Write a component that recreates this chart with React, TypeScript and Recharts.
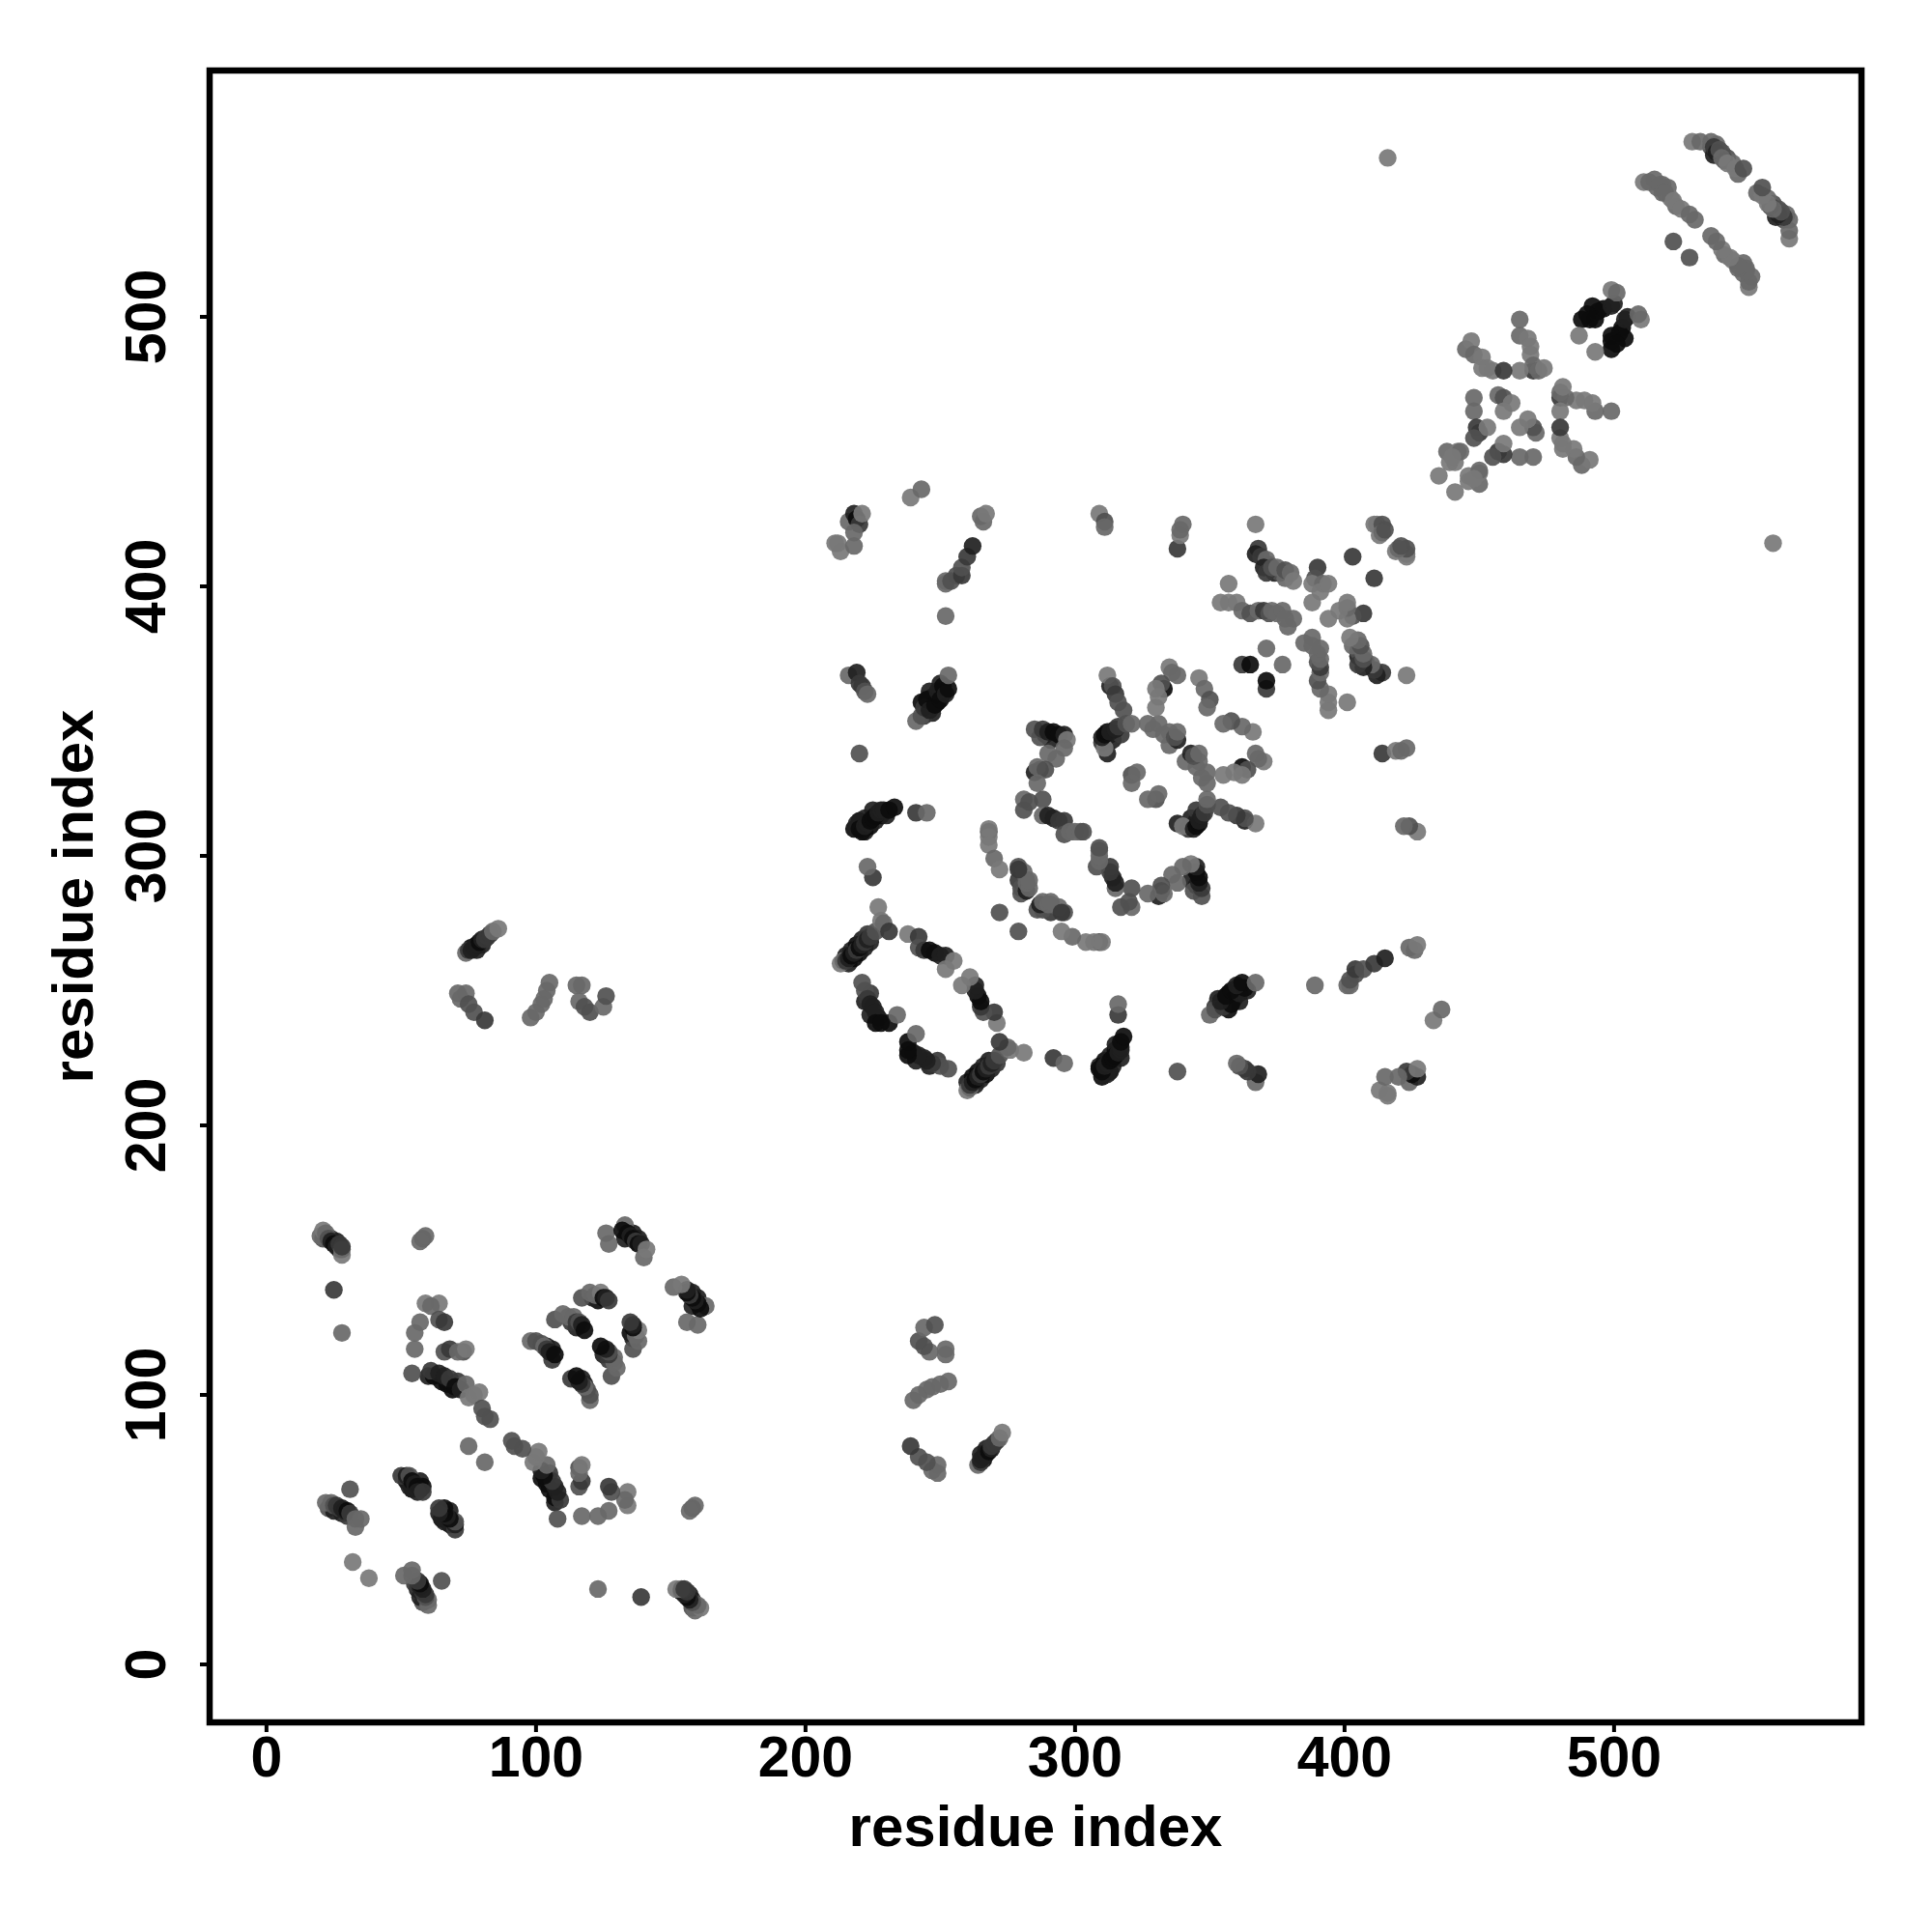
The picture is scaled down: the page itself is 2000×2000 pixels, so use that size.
import { ScatterChart, Scatter, XAxis, YAxis, Cell, ReferenceArea, Label } from 'recharts';

// contact pairs: [residue i, residue j, tone index], i < j
// the map is symmetric so each pair is plotted on both sides of the diagonal
// these sit under the others, they give the dark strands their width
const strandShoulderContacts = [
  [215,263,4],[217,265,4],[219,267,5],[221,269,4],[223,271,3],[216,260,4],[218,262,5],[220,264,5],[222,266,4],[224,268,4],
  [218,310,5],[220,313,5],[222,309,4],[224,311,5],[226,313,4],[228,315,5],[230,315,4],[222,314,4],[225,317,4],
  [243,357,5],[245,355,5],[247,359,5],[249,357,5],[251,360,5],[247,353,4],[250,364,4],[246,361,4],[244,352,3],
  [222,246,4],[224,249,3],[227,240,5],[224,241,4],
  [133,158,4],[136,160,4],[138,158,4],
  [21,158,2],[24,158,3],[26,157,4],[27,154,5],
  [57,68,4],[58,66,5],[54,65,5],[52,68,5],[53,66,4],
  [23,58,2],[25,57,4],[28,56,4],[30,55,3],
  [60,107,4],[62,107,5],[65,105,5],[67,104,5],[69,102,5],[71,105,3],
  [76,266,5],[78,265,4],[80,267,4],
  [104,118,4],[106,117,4],[106,113,3],[115,125,4],[113,127,3],[123,135,5],[121,136,4],
  [536,563,2],[538,564,1],[540,561,2],[537,560,4],[542,559,2],[544,557,1],[546,553,1],
  [516,548,1],[518,549,1],[520,548,1],[523,541,1],[521,544,0],
  [372,408,3],[374,405,4],[376,405,2],[378,403,1],
  [289,345,5],[291,343,4],[287,344,2],
  [313,345,5],[310,342,3],[314,343,4],[317,345,3],
];

const domainOneContacts = [
  [20,159,1],[21,161,0],[22,160,1],[23,158,2],[24,157,4],[25,156,5],[26,155,4],[27,156,3],[28,152,0],[28,154,1],[28,155,3],
  [25,139,3],[28,123,1],[58,158,2],[57,157,1],[59,159,1],
  [59,134,0],[64,134,0],[61,133,1],[57,127,1],[64,128,2],[66,127,3],[55,123,1],[55,117,1],[54,108,2],
  [66,116,2],[68,117,3],[73,116,2],[71,116,1],[74,117,0],
  [61,109,3],[64,108,4],[66,107,4],[68,106,3],[70,103,5],[72,102,4],[74,104,1],[75,99,0],[77,100,0],[79,101,0],[80,95,2],[81,92,2],[83,91,2],
  [75,81,1],
  [98,120,1],[100,120,2],[102,119,2],[103,118,1],[104,117,3],[105,116,4],[107,115,5],
  [107,128,2],[110,130,1],[112,129,1],[114,129,1],[115,127,3],[116,127,2],[117,126,4],[118,124,5],
  [117,136,2],[120,138,1],[122,137,1],[124,138,0],[125,136,5],[126,136,4],[127,135,3],
  [126,160,1],[127,156,1],[133,163,1],[132,161,5],[134,160,5],[135,159,4],[136,158,5],[137,157,3],[138,156,5],[139,156,4],[140,151,1],[141,154,0],
  [31,65,2],
  [22,60,1],[24,60,1],[25,59,2],[26,59,3],[27,58,3],[28,58,4],[29,57,4],[30,57,5],[31,56,3],[33,54,1],[33,51,1],[35,54,1],
  [32,38,0],
  [50,70,3],[52,70,4],[53,70,2],[54,68,5],[55,67,4],[56,66,5],[57,65,5],[56,64,4],[58,64,3],
];

const bridgeContacts = [
  [74,264,1],[75,265,3],[76,265,4],[77,266,4],[78,267,4],[79,268,5],[80,269,4],[81,269,3],[82,270,3],[83,271,3],[84,272,1],[86,273,0],
  [71,249,1],[74,249,1],[72,247,1],[75,245,2],[77,242,2],[81,239,3],
  [98,240,1],[100,242,1],[102,245,1],[103,247,1],[104,250,1],[105,253,1],
  [115,252,1],[117,252,1],[116,246,1],[118,244,2],[120,242,2],[125,244,1],[126,248,2],
];

const domainTwoContacts = [
  [213,260,0],[214,261,1],[215,261,3],[216,262,4],[217,263,5],[218,264,4],[219,265,3],[220,266,5],[221,267,4],[222,268,3],[223,269,4],[224,270,3],[226,272,2],[228,276,0],[227,281,0],[229,275,1],[231,272,3],
  [238,271,0],[242,270,3],[242,266,2],[244,265,3],[246,265,5],[248,264,5],[250,263,4],[252,263,4],[255,261,0],[252,258,0],
  [221,253,2],[222,250,2],[223,247,3],[224,245,4],[225,244,4],[226,242,4],[226,238,5],[228,238,5],[231,238,5],[234,241,1],
  [225,292,3],[223,296,1],
  [219,312,4],[220,310,5],[221,309,5],[222,311,4],[223,312,4],[224,313,5],[225,314,5],[226,315,5],[227,316,4],[228,317,4],[229,317,4],[231,317,5],[233,318,5],
  [241,316,3],[245,316,1],[220,338,2],
  [216,367,1],[219,368,4],[220,364,3],[221,363,3],[222,361,2],[223,360,1],
  [241,350,1],[243,352,2],[244,355,3],[245,358,5],[246,354,4],[248,356,5],[249,361,4],[250,358,5],[251,363,5],[252,360,4],[253,362,5],[253,367,1],
  [252,389,1],[252,401,1],[252,402,1],[254,402,2],[256,404,2],[258,404,3],[258,407,2],[260,411,3],[262,415,4],
  [265,426,1],[266,424,1],[267,427,0],
  [213,413,0],[211,416,0],[212,416,0],[218,415,1],[216,424,1],[218,427,4],[219,425,5],[220,423,3],[221,427,0],[218,420,1],
  [239,433,0],[243,436,1],
  [309,427,0],[311,424,2],[311,422,1],
  [338,414,3],[339,419,0],[339,421,1],[340,423,1],
  [368,414,3],[367,412,4],[369,411,3],[371,410,1],[370,407,4],[371,405,3],[373,407,2],[375,407,1],[378,406,2],[380,405,1],[381,402,0],
  [390,407,3],[389,403,2],[388,401,0],[392,401,1],[391,398,0],[394,401,0],[388,394,0],
  [403,411,3],
  [411,423,0],[412,423,0],[414,423,2],[413,419,0],[414,420,1],[415,421,2],
  [354,394,0],[357,394,0],[360,394,0],[362,391,1],[365,390,2],[368,391,1],[370,391,3],[372,390,2],[373,391,1],[375,390,1],[377,391,1],[381,388,1],[379,385,1],[378,388,1],
  [357,401,0],[367,423,0],[362,371,3],[365,371,5],[371,377,1],
  [313,363,4],[312,367,0],[314,363,2],[315,360,3],[316,357,2],[318,354,2],
  [312,338,4],[311,340,0],[310,344,4],[311,345,5],[312,346,5],[313,346,4],[315,347,4],[316,348,3],[319,349,2],[321,349,1],
  [327,349,1],[329,347,1],[331,349,1],[333,345,1],[335,346,1],[335,341,1],[338,343,4],[337,344,2],[338,346,1],
  [333,362,5],[335,370,0],[336,368,1],[338,367,1],[332,364,2],[330,362,0],[331,359,0],[330,355,0],
  [346,366,0],[348,362,1],[350,358,2],[349,355,1],
  [321,330,2],[321,327,1],[323,331,1],
  [285,347,2],[288,347,3],[290,346,4],[292,346,5],[294,345,5],[296,345,4],[297,343,0],[296,340,1],[293,336,1],[290,338,1],[285,331,4],[287,332,4],[286,333,1],[289,332,2],[286,327,1],
  [281,321,1],[281,317,2],[283,320,2],[288,321,2],[288,315,1],[290,315,4],[292,314,4],[294,313,3],[296,313,3],[296,308,2],[298,309,1],[300,309,1],[302,309,1],[303,309,2],
  [268,309,3],[268,310,0],[268,307,0],[268,304,0],[270,299,1],[272,295,0],
  [279,291,3],[279,296,2],[281,294,1],[282,291,1],[280,288,2],[280,286,2],[272,279,2],
  [282,287,4],[283,288,1],[282,290,1],[283,291,1],[279,295,3],
];

const domainThreeContacts = [
  [416,559,0],
  [496,503,5],[492,504,5],[494,502,5],[488,499,5],[491,499,5],[493,499,5],[490,501,5],[499,504,4],[500,505,4],[499,510,0],[501,509,1],[487,493,0],
  [470,480,3],[465,499,1],[465,493,1],[468,492,0],[469,489,0],[469,486,0],[470,482,1],[465,480,0],[472,480,1],[474,481,0],
  [445,488,1],[447,491,0],[448,486,1],[451,485,0],[451,481,0],[453,481,0],[455,480,0],[459,480,3],
  [457,471,1],[459,470,2],[462,468,0],[459,465,0],[448,470,1],[448,465,1],[449,459,3],[450,457,3],[453,459,0],[448,455,2],
  [438,450,1],[442,450,0],[439,446,0],[435,441,0],[441,446,0],[443,450,1],[440,448,0],
  [511,550,0],[513,550,1],[515,551,1],[517,549,1],[518,546,1],[519,546,1],[522,543,0],[525,540,0],[528,538,1],[530,536,1],
  [522,528,2],
  [529,565,0],[532,565,1],[536,565,1],[537,563,3],[538,561,4],[539,562,2],[541,558,3],[540,559,1],[542,557,0],[545,555,0],[548,555,2],
];

const tones = ['#787878', '#686868', '#505050', '#383838', '#202020', '#0c0c0c'];
const tickValues = [0, 100, 200, 300, 400, 500];
const axisTitle = 'residue index';

const contacts = [...strandShoulderContacts, ...domainOneContacts, ...bridgeContacts, ...domainTwoContacts, ...domainThreeContacts];
const tableData = [
  ...contacts.map(([i, j, tone]) => ({ x: i, y: j, tone })),
  ...contacts.map(([i, j, tone]) => ({ x: j, y: i, tone })),
];

const font = '"Liberation Sans", Arial, sans-serif';
const X_DOMAIN = [-21.1, 591.8];
const Y_DOMAIN = [-21.5, 591.4];

const XTick = ({ x, y, payload }: any) => (
  <text x={x} y={y + 44} textAnchor="middle" fontFamily={font} fontWeight={700} fontSize={59} fill="#000">
    {payload.value}
  </text>
);

const YTick = ({ x, y, payload }: any) => (
  <text
    x={x - 34}
    y={y}
    transform={`rotate(-90 ${x - 34} ${y})`}
    textAnchor="middle"
    fontFamily={font}
    fontWeight={700}
    fontSize={59}
    fill="#000"
  >
    {payload.value}
  </text>
);

const ContactDot = ({ cx, cy, fill }: any) => <circle cx={cx} cy={cy} r={9.2} fill={fill} fillOpacity={0.92} />;

const titleStyle = { fontFamily: font, fontWeight: 700, fontSize: 60, fill: '#000' };

export default function App() {
  return (
    <div style={{ position: 'absolute', left: 0, top: 0, width: 2000, height: 2000, background: '#fff' }}>
      <ScatterChart width={2000} height={2000} margin={{ top: 73, right: 73, bottom: 0, left: 0 }}>
        <XAxis
          type="number"
          dataKey="x"
          domain={X_DOMAIN}
          ticks={tickValues}
          height={217}
          allowDataOverflow
          axisLine={false}
          tickSize={10}
          tickMargin={2}
          tickLine={{ stroke: '#000', strokeWidth: 4 }}
          tick={<XTick />}
          interval={0}
        >
          <Label value={axisTitle} position="insideTop" offset={85} style={titleStyle} />
        </XAxis>
        <YAxis
          type="number"
          dataKey="y"
          domain={Y_DOMAIN}
          ticks={tickValues}
          width={217}
          allowDataOverflow
          axisLine={false}
          tickSize={10}
          tickMargin={2}
          tickLine={{ stroke: '#000', strokeWidth: 4 }}
          tick={<YTick />}
          interval={0}
        >
          <Label value={axisTitle} angle={-90} position="insideLeft" offset={75} style={{ ...titleStyle, textAnchor: 'middle' }} />
        </YAxis>
        <Scatter data={tableData} isAnimationActive={false} shape={<ContactDot />}>
          {tableData.map((d, idx) => (
            <Cell key={idx} fill={tones[d.tone]} />
          ))}
        </Scatter>
        <ReferenceArea
          x1={X_DOMAIN[0]}
          x2={X_DOMAIN[1]}
          y1={Y_DOMAIN[0]}
          y2={Y_DOMAIN[1]}
          fill="none"
          stroke="#000"
          strokeWidth={6.5}
        />
      </ScatterChart>
    </div>
  );
}
